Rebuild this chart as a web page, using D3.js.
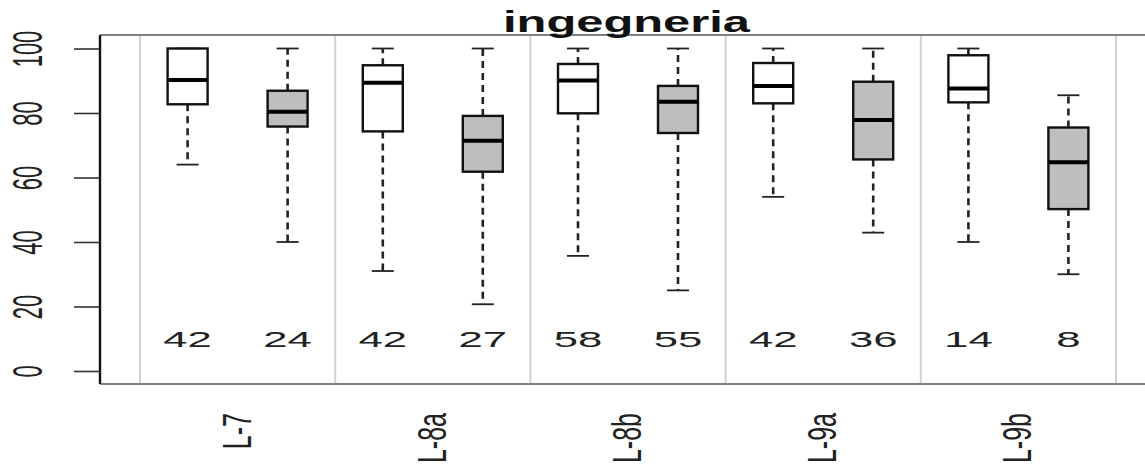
<!DOCTYPE html>
<html>
<head>
<meta charset="utf-8">
<script src="https://cdn.jsdelivr.net/npm/d3@7"></script>
<style>
  html, body { margin: 0; padding: 0; background: #fff; }
  svg { display: block; }
  text { font-family: "Liberation Sans", Arial, Helvetica, sans-serif; fill: #222; }
</style>
</head>
<body>
<script>
// ---- data ----
const title = "ingegneria";
const categories = ["L-7", "L-8a", "L-8b", "L-9a", "L-9b"];
const series = ["white", "gray"];

// first (white) box in each group
const whiteMin = [64, 31, 35.7, 54, 40];
const whiteQ1  = [82.7, 74.3, 79.9, 83, 83.3];
const whiteMed = [90.2, 89.4, 90.1, 88.4, 87.6];
const whiteQ3  = [100, 94.8, 95.2, 95.5, 97.9];
const whiteMax = [100, 100, 100, 100, 100];
const whiteN   = [42, 42, 58, 42, 14];

// second (gray) box in each group
const grayMin = [40, 20.7, 25, 42.9, 30];
const grayQ1  = [75.8, 61.8, 73.8, 65.6, 50.2];
const grayMed = [80.4, 71.4, 83.5, 77.8, 64.7];
const grayQ3  = [86.9, 79.1, 88.4, 89.7, 75.5];
const grayMax = [100, 100, 100, 100, 85.5];
const grayN   = [24, 27, 55, 36, 8];

const yTicks = [0, 20, 40, 60, 80, 100];
const countLabelY = 10;

// ---- build records ----
const boxes = [];
categories.forEach((c, i) => {
  boxes.push({cat: c, s: "white", min: whiteMin[i], q1: whiteQ1[i], med: whiteMed[i], q3: whiteQ3[i], max: whiteMax[i], n: whiteN[i]});
  boxes.push({cat: c, s: "gray", min: grayMin[i], q1: grayQ1[i], med: grayMed[i], q3: grayQ3[i], max: grayMax[i], n: grayN[i]});
});

// ---- layout ----
const W = 1145, H = 473;
const frame = {left: 100, right: 1160, top: 35, bottom: 384};
const sx = 1.9;          // horizontal text stretch of the reference
const boxW = 40, capW = 22;

const svg = d3.select("body").append("svg").attr("width", W).attr("height", H);

const x = d3.scaleBand().domain(categories).range([140, 1116]).paddingInner(0).paddingOuter(0);
const bw = x.bandwidth();
const xs = d3.scalePoint().domain(series).range([bw / 2 - 50, bw / 2 + 50]);
const y = d3.scaleLinear().domain([0, 100]).range([371, 48.5]);
const fill = d3.scaleOrdinal().domain(series).range(["#ffffff", "#bebebe"]);

// group separators
const seps = categories.map(c => x(c)).concat([x(categories[categories.length - 1]) + bw]);
svg.append("g").selectAll("line").data(seps).join("line")
  .attr("x1", d => d).attr("x2", d => d)
  .attr("y1", frame.top).attr("y2", frame.bottom)
  .attr("stroke", "#d0d0d0").attr("stroke-width", 2);

// frame
svg.append("line").attr("x1", frame.left).attr("x2", frame.right)
  .attr("y1", frame.top).attr("y2", frame.top).attr("stroke", "#808080").attr("stroke-width", 2);
svg.append("line").attr("x1", frame.left).attr("x2", frame.right)
  .attr("y1", frame.bottom).attr("y2", frame.bottom).attr("stroke", "#808080").attr("stroke-width", 2);

// y axis
const yAxis = d3.axisLeft(y).tickValues(yTicks).tickSize(26).tickFormat(d3.format("d"));
const ga = svg.append("g").attr("transform", `translate(${frame.left},0)`).call(yAxis);
ga.select(".domain").remove();
ga.selectAll(".tick line").attr("stroke", "#333").attr("stroke-width", 1.6);
ga.selectAll(".tick text").remove();
ga.selectAll(".tick").append("text")
  .attr("transform", `translate(-58,0) scale(${sx},1) rotate(-90)`)
  .attr("text-anchor", "middle")
  .attr("font-size", 22)
  .text(d => d);
svg.append("line").attr("x1", frame.left).attr("x2", frame.left)
  .attr("y1", frame.top).attr("y2", frame.bottom).attr("stroke", "#111").attr("stroke-width", 2.4);

// boxes
const gb = svg.append("g").selectAll("g").data(boxes).join("g")
  .attr("transform", d => `translate(${x(d.cat) + xs(d.s)},0)`);

// whiskers
gb.append("line").attr("x1", 0).attr("x2", 0)
  .attr("y1", d => y(d.q3)).attr("y2", d => y(d.max))
  .attr("stroke", "#222").attr("stroke-width", 2.6).attr("stroke-dasharray", "7,5");
gb.append("line").attr("x1", 0).attr("x2", 0)
  .attr("y1", d => y(d.q1)).attr("y2", d => y(d.min))
  .attr("stroke", "#222").attr("stroke-width", 2.6).attr("stroke-dasharray", "7,5");
// caps
gb.append("line").attr("x1", -capW / 2).attr("x2", capW / 2)
  .attr("y1", d => y(d.max)).attr("y2", d => y(d.max))
  .attr("stroke", "#222").attr("stroke-width", 1.8);
gb.append("line").attr("x1", -capW / 2).attr("x2", capW / 2)
  .attr("y1", d => y(d.min)).attr("y2", d => y(d.min))
  .attr("stroke", "#222").attr("stroke-width", 1.8);
// box
gb.append("rect").attr("x", -boxW / 2).attr("width", boxW)
  .attr("y", d => y(d.q3)).attr("height", d => y(d.q1) - y(d.q3))
  .attr("fill", d => fill(d.s)).attr("stroke", "#111").attr("stroke-width", 2.4);
// median
gb.append("line").attr("x1", -boxW / 2).attr("x2", boxW / 2)
  .attr("y1", d => y(d.med)).attr("y2", d => y(d.med))
  .attr("stroke", "#000").attr("stroke-width", 4);
// counts
gb.append("text")
  .attr("transform", `translate(0,${y(countLabelY)}) scale(${sx},1)`)
  .attr("text-anchor", "middle").attr("dy", "0.36em")
  .attr("font-size", 23)
  .text(d => d.n);

// x labels
svg.append("g").selectAll("text").data(categories).join("text")
  .attr("transform", d => `translate(${x(d) + bw / 2 + 13},413) scale(1.6,1) rotate(-90)`)
  .attr("text-anchor", "end")
  .attr("font-size", 25)
  .text(d => d);

// title
svg.append("text")
  .attr("x", 626.5).attr("y", 32)
  .attr("text-anchor", "middle")
  .attr("font-size", 29).attr("font-weight", "bold")
  .attr("textLength", 247).attr("lengthAdjust", "spacingAndGlyphs")
  .style("fill", "#111")
  .text(title);
</script>
</body>
</html>
